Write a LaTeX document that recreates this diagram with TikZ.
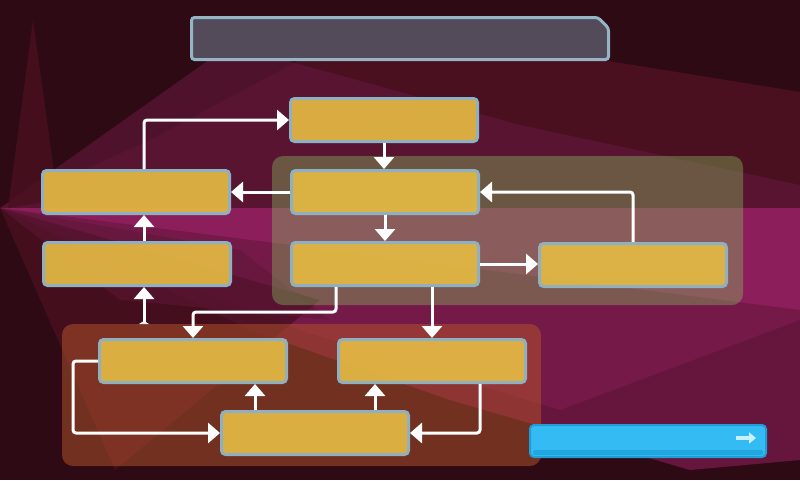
\documentclass[tikz,border=0pt]{standalone}
\usetikzlibrary{arrows.meta}
\definecolor{bgdark}{HTML}{2E0A14}
\definecolor{redwash}{HTML}{4A1020}
\definecolor{purplewash}{HTML}{5E1638}
\definecolor{magentawash}{HTML}{8C1F5B}
\definecolor{plumwash}{HTML}{701845}
\definecolor{boxfill}{HTML}{E3B844}
\definecolor{boxline}{HTML}{8FB0C0}
\definecolor{titlefill}{HTML}{534B5A}
\definecolor{titleline}{HTML}{93B5C5}
\definecolor{groupone}{RGB}{135,185,95}
\definecolor{grouptwo}{RGB}{182,86,44}
\definecolor{btnfill}{HTML}{35BBF3}
\definecolor{btnline}{HTML}{1F9DD6}
\definecolor{btnstrip}{HTML}{22A6E0}
\definecolor{btnicon}{HTML}{C8F0FF}
\tikzset{
  stepbox/.style={draw=boxline, line width=3pt, fill=boxfill, fill opacity=0.93, draw opacity=1,
    rounded corners=4pt, minimum width=187pt, minimum height=43pt, inner sep=0pt},
  conn/.style={draw=white, line width=3pt, rounded corners=3pt,
    -{Triangle[length=12pt,width=20pt]}},
  groupbox/.style={rounded corners=11pt, inner sep=0pt},
}
\begin{document}
\begin{tikzpicture}[x=1pt,y=-1pt]
\useasboundingbox (0,0) rectangle (800,480);
% background
\fill[bgdark] (0,0) rectangle (800,480);
\fill[redwash] (150,140) -- (300,60) -- (590,58) -- (800,92) -- (800,208) -- (0,208) -- cycle;
\fill[purplewash, opacity=0.7] (0,208) -- (230,45) -- (520,125) -- (800,185) -- (800,208) -- cycle;
\fill[redwash, opacity=0.8] (33,20) -- (58,200) -- (8,208) -- cycle;
\fill[magentawash] (0,208) -- (800,208) -- (800,320) -- (560,410) -- (300,330) -- cycle;
\fill[plumwash, opacity=0.85] (0,208) -- (800,310) -- (800,460) -- (690,470) -- (450,400) -- (250,330) -- cycle;
\fill[redwash, opacity=0.8] (0,208) -- (320,300) -- (115,470) -- cycle;
\fill[purplewash, opacity=0.5] (0,208) -- (240,250) -- (330,320) -- (120,300) -- cycle;
% groups
\node[groupbox, fill=groupone, fill opacity=0.4, minimum width=471pt, minimum height=149pt] (G1) at (507.5,230.5) {};
\node[groupbox, fill=grouptwo, fill opacity=0.5, minimum width=479pt, minimum height=142pt] (G2) at (301.5,395) {};
% title
\draw[titleline, line width=3pt, fill=titlefill, rounded corners=3pt]
  (191.5,17.5) -- (598,17.5) -- (608.5,28) -- (608.5,59.5) -- (191.5,59.5) -- cycle;
% boxes
\node[stepbox] (A) at (384,120) {};
\node[stepbox] (B) at (136,192) {};
\node[stepbox] (C) at (385,192) {};
\node[stepbox] (D) at (137,264) {};
\node[stepbox] (E) at (385,264) {};
\node[stepbox] (F) at (633,265) {};
\node[stepbox] (G) at (193,361) {};
\node[stepbox] (H) at (432,361) {};
\node[stepbox] (I) at (315,433) {};
% connectors
\draw[conn] ([xshift=8]B.north) |- (A.west);
\draw[conn] (A.south) -- (A.south |- C.north);
\draw[conn] (C.west) -- (B.east |- C.west);
\draw[conn] (C.south) -- (C.south |- E.north);
\draw[conn] (E.east) -- (E.east -| F.west);
\draw[conn] (F.north) |- (C.east);
\draw[conn] ([xshift=7]D.north) -- ([xshift=7]D.north |- B.south);
\coordinate (S8) at (144,324);
\draw[conn, {Triangle[reversed,length=3pt,width=10pt]}-{Triangle[length=12pt,width=20pt]}] (S8) -- (S8 |- D.south);
\draw[conn] ([xshift=-49]E.south) -- ++(0,25) -| (G.north);
\draw[conn] ([xshift=47]E.south) -- ([xshift=47]E.south |- H.north);
\draw[conn] (G.west) -- ++(-25,0) |- (I.west);
\draw[conn] ([xshift=48]H.south) |- (I.east);
\draw[conn] ([xshift=-60]I.north) -- ([xshift=-60]I.north |- G.south);
\draw[conn] ([xshift=60]I.north) -- ([xshift=60]I.north |- H.south);
% button
\node[draw=btnline, line width=2pt, fill=btnfill, rounded corners=4pt, minimum width=236pt,
  minimum height=32pt, inner sep=0pt] (BTN) at (648,441) {};
\fill[btnstrip, rounded corners=2pt] ([xshift=4pt,yshift=3pt]BTN.south west) rectangle ([xshift=-4pt,yshift=8pt]BTN.south east);
\coordinate (IC1) at (736,438);
\coordinate (IC2) at (756,438);
\draw[btnicon, line width=4pt, -{Triangle[length=7pt,width=11pt]}] (IC1) -- (IC2);
\end{tikzpicture}
\end{document}
